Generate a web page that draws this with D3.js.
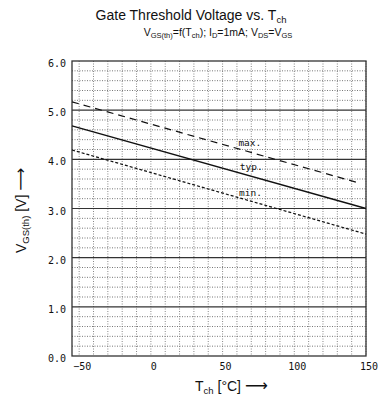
<!DOCTYPE html>
<html><head><meta charset="utf-8">
<script src="https://cdn.jsdelivr.net/npm/d3@7"></script>
<style>body{margin:0;background:#fff}</style>
</head><body>
<svg id="c" width="378" height="398"></svg>
<script>
const xDomain = [-55, 150];
const yDomain = [0, 6];
const xTickLabels = [-50, 0, 50, 100, 150];
const yTickLabels = [0, 1, 2, 3, 4, 5, 6];
const tempsMax = [-55, 145];
const maxV = [5.17, 3.52];
const tempsTyp = [-55, 150];
const typV = [4.68, 3.0];
const tempsMin = [-55, 150];
const minV = [4.19, 2.48];
const curveLabels = [
  {text: "max.", t: 69, v: 4.34},
  {text: "typ.", t: 70, v: 3.85},
  {text: "min.", t: 69.5, v: 3.32}
];

const svg = d3.select("#c");
const L = 72, R = 366, T = 61, B = 356;
const x = d3.scaleLinear().domain(xDomain).range([L, R]);
const y = d3.scaleLinear().domain(yDomain).range([B, T]);

const g = svg.append("g");
g.selectAll("line.v").data(d3.range(-50, 151, 10)).join("line")
  .attr("x1", d => x(d)).attr("x2", d => x(d)).attr("y1", T).attr("y2", B)
  .attr("stroke", "#888").attr("stroke-width", 1).attr("stroke-dasharray", "1,1.5");
g.selectAll("line.hm").data(d3.range(0.2, 6, 0.2).filter(v => Math.abs(v - Math.round(v)) > 0.05)).join("line")
  .attr("x1", L).attr("x2", R).attr("y1", d => y(d)).attr("y2", d => y(d))
  .attr("stroke", "#777").attr("stroke-width", 1).attr("stroke-dasharray", "1,1.5");
g.selectAll("line.hM").data([1, 2, 3, 4, 5]).join("line")
  .attr("x1", L).attr("x2", R).attr("y1", d => y(d)).attr("y2", d => y(d))
  .attr("stroke", "#333").attr("stroke-width", 1.2);
svg.append("rect").attr("x", L).attr("y", T).attr("width", R - L).attr("height", B - T)
  .attr("fill", "none").attr("stroke", "#333").attr("stroke-width", 1.3);

const mono = "DejaVu Sans Mono, monospace";
svg.append("g").selectAll("text").data(yTickLabels).join("text")
  .attr("x", L - 6).attr("y", d => y(d) + 6)
  .attr("text-anchor", "end").attr("font-family", mono).attr("font-size", 10).attr("fill", "#111")
  .text(d => d.toFixed(1));
svg.append("g").selectAll("text").data(xTickLabels).join("text")
  .attr("x", d => x(d) + 3).attr("y", B + 14)
  .attr("text-anchor", "middle").attr("font-family", mono).attr("font-size", 10).attr("fill", "#111")
  .text(d => d < 0 ? "\u2212" + Math.abs(d) : d);

const line = d3.line().x(d => x(d[0])).y(d => y(d[1]));
function curve(ts, vs, dash, w) {
  svg.append("path").datum(ts.map((t, i) => [t, vs[i]]))
    .attr("d", line).attr("fill", "none").attr("stroke", "#111")
    .attr("stroke-width", w).attr("stroke-dasharray", dash);
}
curve(tempsMax, maxV, "7,5", 1.2);
curve(tempsTyp, typV, null, 1.3);
curve(tempsMin, minV, "3,2", 1.2);

svg.append("g").selectAll("text").data(curveLabels).join("text")
  .attr("x", d => x(d.t)).attr("y", d => y(d.v) + 3.5)
  .attr("text-anchor", "middle").attr("font-family", mono).attr("font-size", 9.5).attr("fill", "#111")
  .text(d => d.text);

const sans = "Liberation Sans, Arial, sans-serif";
const title = svg.append("text").attr("x", 191).attr("y", 20).attr("text-anchor", "middle")
  .attr("font-family", sans).attr("font-size", 14).attr("fill", "#111");
title.append("tspan").text("Gate Threshold Voltage vs. T");
title.append("tspan").attr("font-size", 9.5).attr("dy", 3).text("ch");

const sub = svg.append("text").attr("x", 218).attr("y", 36).attr("text-anchor", "middle")
  .attr("font-family", sans).attr("font-size", 10.5).attr("fill", "#111");
sub.append("tspan").text("V");
sub.append("tspan").attr("font-size", 7.5).attr("dy", 2).text("GS(th)");
sub.append("tspan").attr("dy", -2).text("=f(T");
sub.append("tspan").attr("font-size", 7.5).attr("dy", 2).text("ch");
sub.append("tspan").attr("dy", -2).text("); I");
sub.append("tspan").attr("font-size", 7.5).attr("dy", 2).text("D");
sub.append("tspan").attr("dy", -2).text("=1mA; V");
sub.append("tspan").attr("font-size", 7.5).attr("dy", 2).text("DS");
sub.append("tspan").attr("dy", -2).text("=V");
sub.append("tspan").attr("font-size", 7.5).attr("dy", 2).text("GS");

const xl = svg.append("text").attr("x", 195).attr("y", 391)
  .attr("font-family", sans).attr("font-size", 14).attr("fill", "#111");
xl.append("tspan").text("T");
xl.append("tspan").attr("font-size", 9.5).attr("dy", 3).text("ch");
xl.append("tspan").attr("dy", -3).text(" [°C] ");
xl.append("tspan").attr("font-family", "DejaVu Sans").attr("font-size", 16).text("\u27F6");

const yl = svg.append("text").attr("transform", "translate(26,253) rotate(-90)")
  .attr("font-family", sans).attr("font-size", 14).attr("fill", "#111");
yl.append("tspan").text("V");
yl.append("tspan").attr("font-size", 9.5).attr("dy", 3).text("GS(th)");
yl.append("tspan").attr("dy", -3).text(" [V] ");
yl.append("tspan").attr("font-family", "DejaVu Sans").attr("font-size", 16).text("\u27F6");
</script>
</body></html>
